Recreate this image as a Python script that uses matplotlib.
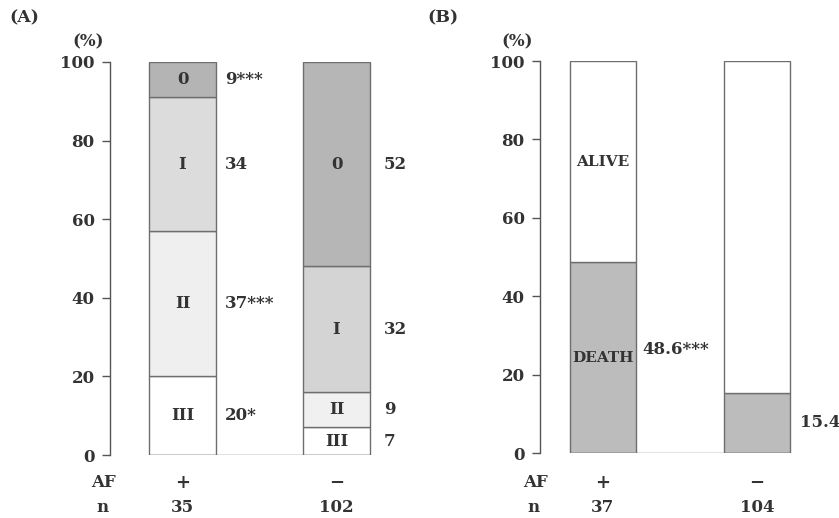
import matplotlib.pyplot as plt
import numpy as np

plt.rcParams['font.family'] = 'DejaVu Serif'
plt.rcParams['font.weight'] = 'bold'

# panel A: NYHA class by AF
groups_a = ['+', '\u2212']
n_a = [35, 102]
classes = ['III', 'II', 'I', '0']
vals_a = {'+': [20, 37, 34, 9], '\u2212': [7, 9, 32, 52]}
labels_a = {'+': ['20*', '37***', '34', '9***'], '\u2212': ['7', '9', '32', '52']}
colors_a = {'+': ['#ffffff', '#efefef', '#dcdcdc', '#b4b4b4'],
            '\u2212': ['#ffffff', '#f0f0f0', '#d4d4d4', '#b6b6b6']}

# panel B: outcome by AF
groups_b = ['+', '\u2212']
n_b = [37, 104]
death = [48.6, 15.4]
death_labels = ['48.6***', '15.4']

W, H = 839, 518
fig = plt.figure(figsize=(W / 100, H / 100), dpi=100)

txt = '#333333'
edge = '#6e6e6e'
width = 0.435


def style_axis(ax, x0, x1):
    ax.set_xlim(x0, x1)
    ax.set_ylim(0, 100)
    for s in ['top', 'right', 'bottom']:
        ax.spines[s].set_visible(False)
    ax.spines['left'].set_color('#555555')
    ax.spines['left'].set_linewidth(1)
    ax.set_xticks([])
    ax.set_yticks([0, 20, 40, 60, 80, 100])
    ax.tick_params(axis='y', direction='out', length=6, width=1, color='#555555',
                   labelsize=12, labelcolor=txt, pad=5)
    for t in ax.get_yticklabels():
        t.set_fontweight('bold')


# ---- panel A
axA = fig.add_axes([110 / W, 1 - 455 / H, 300 / W, 393 / H])
xs = np.arange(len(groups_a))
offs_a = [0.06, 0.09]
for i, g in enumerate(groups_a):
    bottom = 0
    for k, cls in enumerate(classes):
        v = vals_a[g][k]
        axA.bar(xs[i], v, width, bottom=bottom, color=colors_a[g][k],
                edgecolor=edge, linewidth=1)
        axA.text(xs[i], bottom + v / 2, cls, ha='center', va='center',
                 fontsize=12, color=txt, fontweight='bold')
        axA.text(xs[i] + width / 2 + offs_a[i], bottom + v / 2, labels_a[g][k],
                 ha='left', va='center', fontsize=12, color=txt, fontweight='bold')
        bottom += v
axA.hlines(0, xs[0] - width / 2, xs[-1] + width / 2, color=edge, linewidth=1)
style_axis(axA, (110 - 182.5) / 154, (410 - 182.5) / 154)
for i, g in enumerate(groups_a):
    axA.text(xs[i], -7.1, g, ha='center', va='center', fontsize=13, color=txt, clip_on=False)
    axA.text(xs[i], -13.3, str(n_a[i]), ha='center', va='center', fontsize=12, color=txt, clip_on=False)
axA.text(-0.48 + 0.05, -7.1, 'AF', ha='right', va='center', fontsize=12, color=txt, clip_on=False)
axA.text(-0.48 + 0.0, -13.3, 'n', ha='right', va='center', fontsize=12, color=txt, clip_on=False)
fig.text(9 / W, 1 - 18 / H, '(A)', ha='left', va='center', fontsize=12.5, color=txt, fontweight='bold')
fig.text(88 / W, 1 - 42 / H, '(%)', ha='center', va='center', fontsize=12, color=txt, fontweight='bold')

# ---- panel B
axB = fig.add_axes([540 / W, 1 - 453 / H, 290 / W, 392 / H])
xb = np.arange(len(groups_b))
for i in range(len(groups_b)):
    axB.bar(xb[i], death[i], width, color='#bcbcbc', edgecolor=edge, linewidth=1)
    axB.bar(xb[i], 100 - death[i], width, bottom=death[i], color='#ffffff',
            edgecolor=edge, linewidth=1)
axB.text(xb[0], death[0] / 2, 'DEATH', ha='center', va='center', fontsize=11,
         color=txt, fontweight='bold')
axB.text(xb[0], death[0] + (100 - death[0]) / 2, 'ALIVE', ha='center', va='center',
         fontsize=11, color=txt, fontweight='bold')
axB.text(xb[0] + width / 2 + 0.04, death[0] / 2 + 2, death_labels[0], ha='left',
         va='center', fontsize=12, color=txt, fontweight='bold')
axB.text(xb[1] + width / 2 + 0.06, death[1] / 2, death_labels[1], ha='left',
         va='center', fontsize=12, color=txt, fontweight='bold')
axB.hlines(0, xb[0] - width / 2, xb[-1] + width / 2, color=edge, linewidth=1)
style_axis(axB, (540 - 603) / 154, (540 + 290 - 603) / 154)
for i, g in enumerate(groups_b):
    axB.text(xb[i], -7.6, g, ha='center', va='center', fontsize=13, color=txt, clip_on=False)
    axB.text(xb[i], -13.8, str(n_b[i]), ha='center', va='center', fontsize=12, color=txt, clip_on=False)
axB.text(-0.41 + 0.05, -7.6, 'AF', ha='right', va='center', fontsize=12, color=txt, clip_on=False)
axB.text(-0.41, -13.8, 'n', ha='right', va='center', fontsize=12, color=txt, clip_on=False)
fig.text(427 / W, 1 - 18 / H, '(B)', ha='left', va='center', fontsize=12.5, color=txt, fontweight='bold')
fig.text(517 / W, 1 - 42 / H, '(%)', ha='center', va='center', fontsize=12, color=txt, fontweight='bold')

fig.savefig('out.png', dpi=100)
